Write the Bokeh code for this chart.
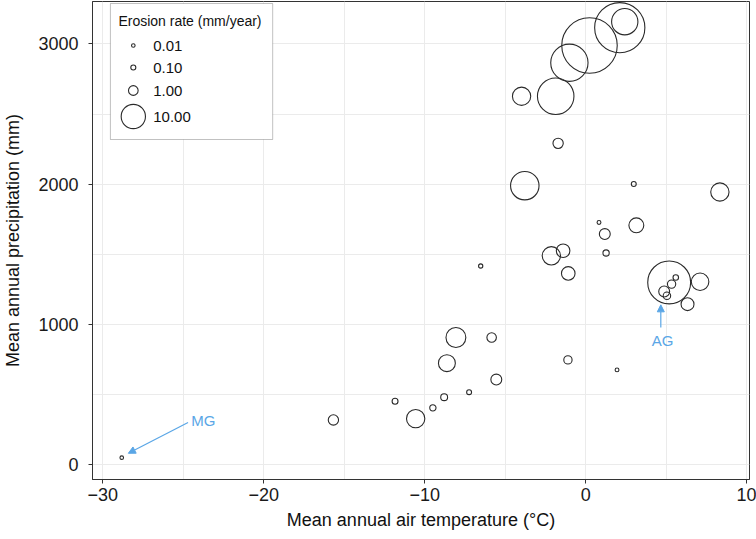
import math
from bokeh.plotting import figure
from bokeh.models import Range1d, FixedTicker, Arrow, NormalHead, Label, BoxAnnotation, ColumnDataSource
from bokeh.embed import file_html
from bokeh.resources import INLINE

# ---------------- data ----------------
TEMP = [-28.82, -15.67, -11.84, -10.56, -9.49, -8.79, -8.62, -8.06, -7.24, -5.84,
        -5.55, -6.52, -3.78, 2.99, 8.34, 0.83, 1.19, 3.15, 1.27, -2.13,
        -1.40, -1.08, 5.19, 5.60, 5.34, 4.88, 5.05, 7.11, 6.33, -1.10,
        1.95, 2.43, 2.12, 0.24, -1.01, -1.86, -3.98, -1.71]
PRECIP = [49, 318, 451, 327, 404, 480, 723, 906, 516, 906,
          606, 1416, 1989, 2001, 1944, 1727, 1644, 1706, 1509, 1489,
          1525, 1363, 1299, 1334, 1287, 1234, 1204, 1304, 1144, 746,
          675, 3159, 3116, 2989, 2866, 2627, 2627, 2291]
EROSION = [0.01, 1.2, 0.2, 5.2, 0.25, 0.35, 4.3, 6.3, 0.09, 0.95,
           1.4, 0.04, 14.3, 0.09, 5.2, 0.02, 1.4, 3.15, 0.25, 5.2,
           2.5, 2.5, 35.0, 0.15, 0.64, 1.4, 0.46, 4.7, 2.2, 0.64,
           0.02, 12.0, 49.0, 60.5, 25.9, 24.7, 5.2, 1.2]

LEGEND_TITLE = "Erosion rate (mm/year)"
LEGEND_RATES = [0.01, 0.1, 1.0, 10.0]
LEGEND_LABELS = ["0.01", "0.10", "1.00", "10.00"]

X_TICKS = [-30, -20, -10, 0, 10]
X_MINOR = [-25, -15, -5, 5]
Y_TICKS = [0, 1000, 2000, 3000]
Y_MINOR = [500, 1500, 2500]

ANNOT_COLOR = "#5aa6e6"
MG = dict(label="MG", tx=-24.50, ty=316, ax0=-24.70, ay0=299, ax1=-28.41, ay1=80)
AG = dict(label="AG", tx=4.78, ty=882, ax0=4.67, ay0=977, ax1=4.67, ay1=1139)

# ---------------- style / layout ----------------
FONT = "Liberation Sans"
LW = 1.1
CIRCLE_COLOR = "#2a2a2a"


def size_px(v):
    return 2 * (2.0 + 3.38 * math.sqrt(v)) - LW


W, H = 756, 539
ML, MR, MT, MB = 89, 7, 1, 60
X0, X1 = -30.637, 10.18
Y0, Y1 = -107.0, 3303.0
FW, FH = W - ML - MR, H - MT - MB


def dx(px):  # canvas pixel -> data x
    return X0 + (px - ML) / FW * (X1 - X0)


def dy(py):  # canvas pixel -> data y
    return Y1 - (py - MT) / FH * (Y1 - Y0)


p = figure(width=W, height=H, x_range=Range1d(X0, X1), y_range=Range1d(Y0, Y1),
           output_backend="svg", toolbar_location=None,
           min_border_left=ML, min_border_right=MR, min_border_top=MT, min_border_bottom=MB)
p.background_fill_color = "white"
p.border_fill_color = "white"
p.outline_line_color = "#333333"
p.outline_line_width = 1

p.xaxis.ticker = FixedTicker(ticks=X_TICKS, minor_ticks=X_MINOR)
p.yaxis.ticker = FixedTicker(ticks=Y_TICKS, minor_ticks=Y_MINOR)
p.xaxis.major_label_overrides = {t: (str(t).replace("-", "\u2212")) for t in X_TICKS}
p.yaxis.major_label_overrides = {t: str(t) for t in Y_TICKS}

for ax in (p.xaxis[0], p.yaxis[0]):
    ax.axis_line_color = "#333333"
    ax.major_tick_line_color = "#333333"
    ax.major_tick_out = 4
    ax.major_tick_in = 0
    ax.minor_tick_line_color = None
    ax.major_label_text_font = FONT
    ax.major_label_text_font_size = "18px"
    ax.major_label_text_color = "#1a1a1a"
    ax.axis_label_text_font = FONT
    ax.axis_label_text_font_size = "18px"
    ax.axis_label_text_font_style = "normal"
    ax.axis_label_text_color = "#111111"

p.xaxis.axis_label = "Mean annual air temperature (\u00b0C)"
p.yaxis.axis_label = "Mean annual precipitation (mm)"
p.xaxis.major_label_standoff = 4
p.xaxis.axis_label_standoff = 6
p.yaxis.major_label_standoff = 10
p.yaxis.axis_label_standoff = 12

for g in (p.xgrid[0], p.ygrid[0]):
    g.grid_line_color = "#ebebeb"
    g.grid_line_width = 1
    g.minor_grid_line_color = "#ebebeb"
    g.minor_grid_line_width = 1

# ---------------- data circles ----------------
src = ColumnDataSource(dict(x=TEMP, y=PRECIP, rate=EROSION,
                            size=[size_px(v) for v in EROSION]))
p.scatter("x", "y", size="size", source=src, marker="circle",
          fill_alpha=0, line_color=CIRCLE_COLOR, line_width=LW)

# ---------------- annotations ----------------
for a in (MG, AG):
    p.add_layout(Arrow(end=NormalHead(size=7, fill_color=ANNOT_COLOR, line_color=ANNOT_COLOR, line_width=1),
                       x_start=a["ax0"], y_start=a["ay0"], x_end=a["ax1"], y_end=a["ay1"],
                       line_color=ANNOT_COLOR, line_width=1.2))
p.add_layout(Label(x=MG["tx"], y=MG["ty"], text=MG["label"], text_font=FONT, text_font_size="15px",
                   text_color=ANNOT_COLOR, text_baseline="middle", text_align="left"))
p.add_layout(Label(x=AG["tx"], y=AG["ty"], text=AG["label"], text_font=FONT, text_font_size="15px",
                   text_color=ANNOT_COLOR, text_baseline="middle", text_align="center"))

# ---------------- legend (size key) ----------------
p.add_layout(BoxAnnotation(left=dx(107), right=dx(270), top=dy(3), bottom=dy(139),
                           fill_color="white", fill_alpha=1.0, line_color="#333333",
                           line_width=1, level="underlay"))
p.add_layout(Label(x=dx(115), y=dy(20), text=LEGEND_TITLE, text_font=FONT, text_font_size="14px",
                   text_color="#111111", text_baseline="middle"))
key_y = [45, 67, 90, 116]
lsrc = ColumnDataSource(dict(x=[dx(130)] * len(LEGEND_RATES), y=[dy(v) for v in key_y],
                             size=[size_px(v) for v in LEGEND_RATES]))
p.scatter("x", "y", size="size", source=lsrc, marker="circle",
          fill_alpha=0, line_color=CIRCLE_COLOR, line_width=LW)
for lab, yy in zip(LEGEND_LABELS, key_y):
    p.add_layout(Label(x=dx(150), y=dy(yy), text=lab, text_font=FONT, text_font_size="15px",
                       text_color="#111111", text_baseline="middle"))

open("out.html", "w").write(file_html(p, INLINE))
